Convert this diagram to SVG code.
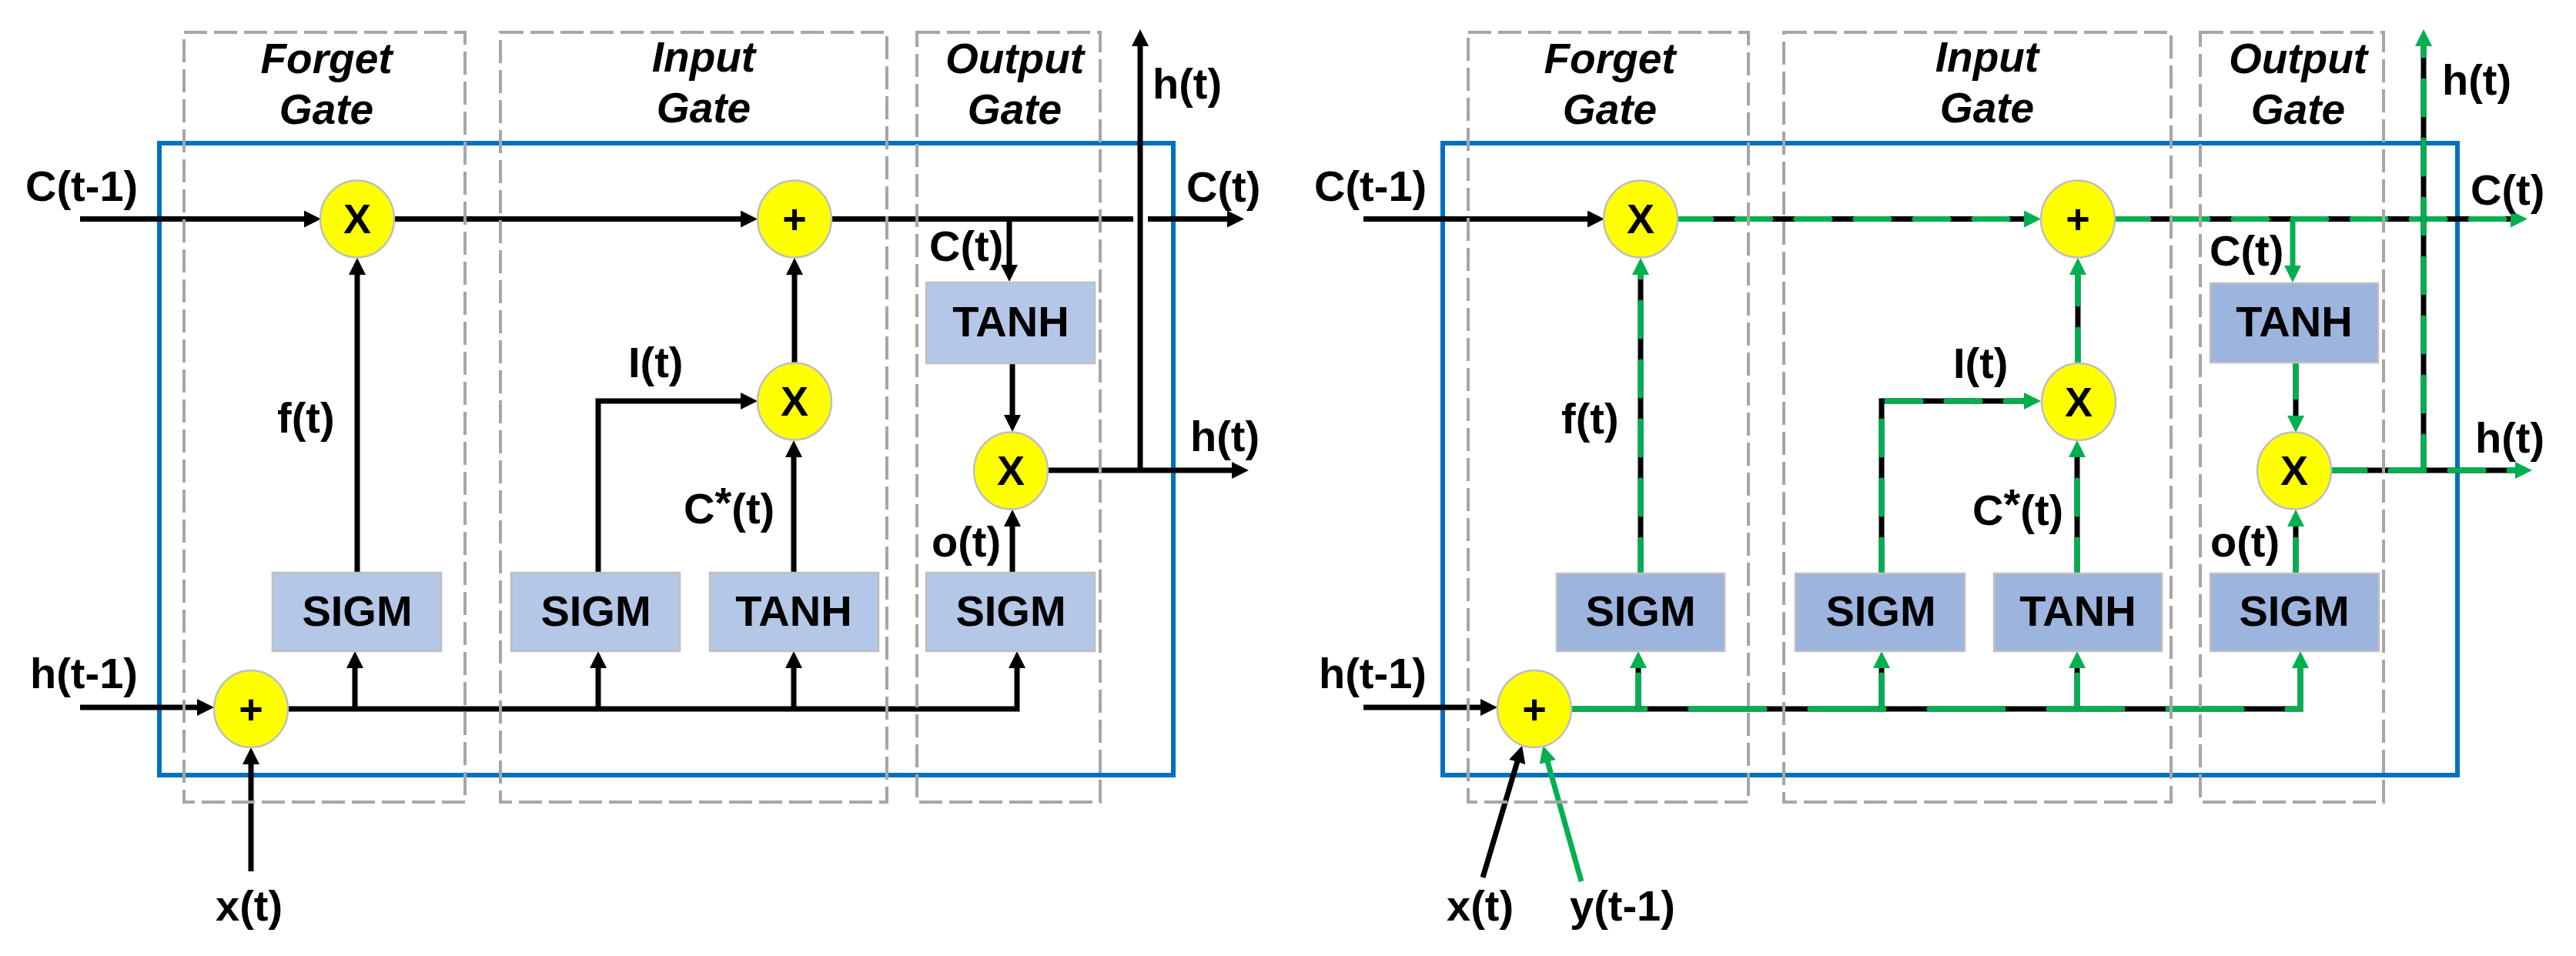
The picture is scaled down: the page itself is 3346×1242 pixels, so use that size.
<svg xmlns="http://www.w3.org/2000/svg" width="3346" height="1242" viewBox="0 0 3346 1242">
<defs>
<style>
.gate{fill:none;stroke:#A6A6A6;stroke-width:4;stroke-dasharray:30 9}
.cell{fill:none;stroke:#0070C0;stroke-width:6}
.op{fill:#FFFF00;stroke:#BFBFBF;stroke-width:2.5}
.fnL{fill:#B4C7E7;stroke:#BFBFBF;stroke-width:2.5}
.fnR{fill:#9DB4DE;stroke:#BFBFBF;stroke-width:2.5}
text{font-family:"Liberation Sans",Arial,sans-serif;font-weight:bold;fill:#000}
.t{font-size:56px}
.title{font-size:55px;font-style:italic;text-anchor:middle}
.sym{font-size:54px;text-anchor:middle}
.fn{font-size:56px;text-anchor:middle}
.k{fill:none;stroke:#000;stroke-width:7}
.g{fill:none;stroke:#00B050;stroke-width:7;stroke-dasharray:44 33;stroke-linecap:round}
.gb{fill:none;stroke:#00B050;stroke-width:7;stroke-dasharray:96 59;stroke-linecap:round}
.gs{fill:none;stroke:#00B050;stroke-width:7}
</style>
<marker id="ak" markerUnits="userSpaceOnUse" markerWidth="24" markerHeight="22" viewBox="0 0 24 22" refX="1" refY="11" orient="auto"><path d="M0,0 L22,11 L0,22 z" fill="#000"/></marker>
<marker id="ag" markerUnits="userSpaceOnUse" markerWidth="24" markerHeight="22" viewBox="0 0 24 22" refX="1" refY="11" orient="auto"><path d="M0,0 L22,11 L0,22 z" fill="#00B050"/></marker>
</defs>

<!-- ================= LEFT DIAGRAM ================= -->
<g id="left">
<rect id="L-cell" class="cell" x="207" y="186" width="1317" height="821"/>

<g id="L-connectors">
<path class="k" d="M104,284.5 H396" marker-end="url(#ak)"/>
<path class="k" d="M512,284.5 H963" marker-end="url(#ak)"/>
<path class="k" d="M1080,284.5 H1472"/>
<path class="k" d="M1491,284.5 H1595" marker-end="url(#ak)"/>
<path class="k" d="M1311,284.5 V345" marker-end="url(#ak)"/>
<path class="k" d="M1315,472 V540" marker-end="url(#ak)"/>
<path class="k" d="M1361,611 H1601" marker-end="url(#ak)"/>
<path class="k" d="M1481,611 V59" marker-end="url(#ak)"/>
<path class="k" d="M464,745 V356" marker-end="url(#ak)"/>
<path class="k" d="M777,745 V521 H963" marker-end="url(#ak)"/>
<path class="k" d="M1031,745 V593" marker-end="url(#ak)"/>
<path class="k" d="M1032,472 V356" marker-end="url(#ak)"/>
<path class="k" d="M1315,745 V683" marker-end="url(#ak)"/>
<path class="k" d="M374,921 H1321 V867" marker-end="url(#ak)"/>
<path class="k" d="M461,921 V867" marker-end="url(#ak)"/>
<path class="k" d="M777,921 V867" marker-end="url(#ak)"/>
<path class="k" d="M1031,921 V867" marker-end="url(#ak)"/>
<path class="k" d="M104,919 H257" marker-end="url(#ak)"/>
<path class="k" d="M326,1132 V992" marker-end="url(#ak)"/>
</g>

<g id="L-forget-gate"><rect class="gate" x="239" y="42" width="365" height="1000"/>
<text class="title" x="424" y="95">Forget</text><text class="title" x="424" y="161">Gate</text></g>
<g id="L-input-gate"><rect class="gate" x="650" y="42" width="502" height="1000"/>
<text class="title" x="914" y="93">Input</text><text class="title" x="914" y="159">Gate</text></g>
<g id="L-output-gate"><rect class="gate" x="1191" y="42" width="238" height="1000"/>
<text class="title" x="1318" y="95">Output</text><text class="title" x="1318" y="161">Gate</text></g>

<g id="L-mul-forget"><ellipse class="op" cx="464" cy="284.5" rx="48" ry="50"/><text class="sym" x="464" y="303">X</text></g>
<g id="L-add-cell"><ellipse class="op" cx="1032" cy="284.5" rx="48" ry="50"/><text class="sym" x="1032" y="303">+</text></g>
<g id="L-mul-input"><ellipse class="op" cx="1032" cy="521.5" rx="48" ry="50"/><text class="sym" x="1032" y="540">X</text></g>
<g id="L-mul-output"><ellipse class="op" cx="1313" cy="611.5" rx="48" ry="50"/><text class="sym" x="1313" y="630">X</text></g>
<g id="L-add-in"><ellipse class="op" cx="326" cy="921" rx="48" ry="50"/><text class="sym" x="326" y="940">+</text></g>

<g id="L-sigm-f"><rect class="fnL" x="354" y="744" width="219" height="102"/><text class="fn" x="464" y="813">SIGM</text></g>
<g id="L-sigm-i"><rect class="fnL" x="664" y="744" width="219" height="102"/><text class="fn" x="774" y="813">SIGM</text></g>
<g id="L-tanh-c"><rect class="fnL" x="922" y="744" width="219" height="102"/><text class="fn" x="1031" y="813">TANH</text></g>
<g id="L-sigm-o"><rect class="fnL" x="1203" y="744" width="219" height="102"/><text class="fn" x="1313" y="813">SIGM</text></g>
<g id="L-tanh-o"><rect class="fnL" x="1203" y="367" width="219" height="105"/><text class="fn" x="1313" y="437">TANH</text></g>

<g id="L-labels">
<text class="t" x="33" y="261">C(t-1)</text>
<text class="t" x="1541" y="262">C(t)</text>
<text class="t" x="1497" y="128">h(t)</text>
<text class="t" x="1207" y="339">C(t)</text>
<text class="t" x="360" y="562">f(t)</text>
<text class="t" x="816" y="490">I(t)</text>
<text class="t" x="888" y="680">C<tspan dy="-8">*</tspan><tspan dy="8">(t)</tspan></text>
<text class="t" x="1210" y="723">o(t)</text>
<text class="t" x="1546" y="586">h(t)</text>
<text class="t" x="39" y="894">h(t-1)</text>
<text class="t" x="280" y="1196">x(t)</text>
</g>
</g>

<!-- ================= RIGHT DIAGRAM ================= -->
<g id="right">
<rect id="R-cell" class="cell" x="1874" y="186" width="1318" height="821"/>

<g id="R-connectors">
<path class="k" d="M1771,284.5 H2063" marker-end="url(#ak)"/>
<path class="k" d="M1771,919 H1924" marker-end="url(#ak)"/>
<path class="k" d="M1926,1140 L1971,989" marker-end="url(#ak)"/>
<path class="gs" d="M2054,1145 L2010,989" marker-end="url(#ag)"/>

<path class="k" d="M2179,284.5 H2630"/><path class="g" d="M2179,284.5 H2630" marker-end="url(#ag)"/>
<path class="k" d="M2747,284.5 H3262"/><path class="g" d="M2747,284.5 H3262" marker-end="url(#ag)"/>
<path class="gs" d="M2978,284.5 V346" marker-end="url(#ag)"/>
<path class="k" d="M2982,472 V541"/><path class="g" d="M2982,472 V541" marker-end="url(#ag)"/>
<path class="k" d="M3028,611 H3268"/><path class="g" d="M3028,611 H3268" marker-end="url(#ag)"/>
<path class="k" d="M3148,611 V59"/><path class="g" d="M3148,611 V59" marker-end="url(#ag)"/>
<path class="k" d="M2131,745 V356"/><path class="g" d="M2131,745 V356" marker-end="url(#ag)"/>
<path class="k" d="M2444,745 V521 H2630"/><path class="g" d="M2444,745 V521 H2630" marker-end="url(#ag)"/>
<path class="k" d="M2698,745 V593"/><path class="g" d="M2698,745 V593" marker-end="url(#ag)"/>
<path class="k" d="M2699,472 V356"/><path class="g" d="M2699,472 V356" marker-end="url(#ag)"/>
<path class="k" d="M2982,745 V683"/><path class="g" d="M2982,745 V683" marker-end="url(#ag)"/>
<path class="k" d="M2041,921 H2988 V867"/><path class="gb" d="M2041,921 H2988 V867" marker-end="url(#ag)"/>
<path class="k" d="M2128,921 V867"/><path class="g" d="M2128,921 V867" marker-end="url(#ag)"/>
<path class="k" d="M2444,921 V867"/><path class="g" d="M2444,921 V867" marker-end="url(#ag)"/>
<path class="k" d="M2698,921 V867"/><path class="g" d="M2698,921 V867" marker-end="url(#ag)"/>
</g>

<g id="R-forget-gate"><rect class="gate" x="1907" y="42" width="364" height="1000"/>
<text class="title" x="2091" y="95">Forget</text><text class="title" x="2091" y="161">Gate</text></g>
<g id="R-input-gate"><rect class="gate" x="2317" y="42" width="503" height="1000"/>
<text class="title" x="2581" y="93">Input</text><text class="title" x="2581" y="159">Gate</text></g>
<g id="R-output-gate"><rect class="gate" x="2858" y="42" width="238" height="1000"/>
<text class="title" x="2985" y="95">Output</text><text class="title" x="2985" y="161">Gate</text></g>

<g id="R-mul-forget"><ellipse class="op" cx="2131" cy="284.5" rx="48" ry="50"/><text class="sym" x="2131" y="303">X</text></g>
<g id="R-add-cell"><ellipse class="op" cx="2699" cy="284.5" rx="48" ry="50"/><text class="sym" x="2699" y="303">+</text></g>
<g id="R-mul-input"><ellipse class="op" cx="2700" cy="522" rx="48" ry="50"/><text class="sym" x="2700" y="541">X</text></g>
<g id="R-mul-output"><ellipse class="op" cx="2980" cy="611.5" rx="48" ry="50"/><text class="sym" x="2980" y="630">X</text></g>
<g id="R-add-in"><ellipse class="op" cx="1993" cy="921" rx="48" ry="50"/><text class="sym" x="1993" y="940">+</text></g>

<g id="R-sigm-f"><rect class="fnR" x="2022" y="745" width="218" height="101"/><text class="fn" x="2131" y="813">SIGM</text></g>
<g id="R-sigm-i"><rect class="fnR" x="2332" y="745" width="220" height="101"/><text class="fn" x="2443" y="813">SIGM</text></g>
<g id="R-tanh-c"><rect class="fnR" x="2590" y="745" width="218" height="101"/><text class="fn" x="2699" y="813">TANH</text></g>
<g id="R-sigm-o"><rect class="fnR" x="2871" y="745" width="219" height="101"/><text class="fn" x="2980" y="813">SIGM</text></g>
<g id="R-tanh-o"><rect class="fnR" x="2871" y="368" width="218" height="103"/><text class="fn" x="2980" y="437">TANH</text></g>

<g id="R-labels">
<text class="t" x="1707" y="261">C(t-1)</text>
<text class="t" x="3209" y="266">C(t)</text>
<text class="t" x="3172" y="123">h(t)</text>
<text class="t" x="2870" y="345">C(t)</text>
<text class="t" x="2028" y="563">f(t)</text>
<text class="t" x="2537" y="491">I(t)</text>
<text class="t" x="2562" y="682">C<tspan dy="-8">*</tspan><tspan dy="8">(t)</tspan></text>
<text class="t" x="2871" y="723">o(t)</text>
<text class="t" x="3215" y="588">h(t)</text>
<text class="t" x="1713" y="894">h(t-1)</text>
<text class="t" x="1879" y="1196">x(t)</text>
<text class="t" x="2039" y="1196">y(t-1)</text>
</g>
</g>
</svg>
